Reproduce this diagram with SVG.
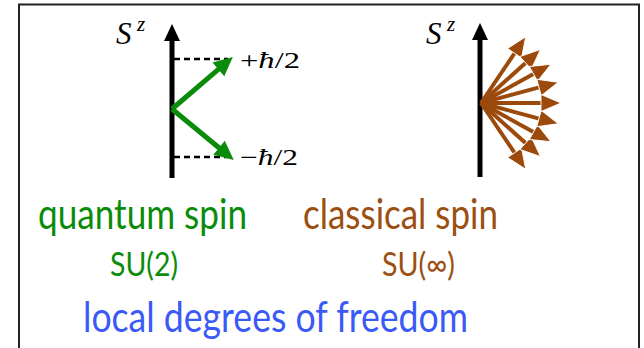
<svg xmlns="http://www.w3.org/2000/svg" width="644" height="348" viewBox="0 0 644 348">
<style>
.lbl{font-family:Lato,"Open Sans",sans-serif;font-weight:400;text-anchor:middle}
.q{fill:#0a8c0a}
.c{fill:#9c4f12}
.b{fill:#3a5af8}
.m{font-family:"Liberation Serif","DejaVu Serif",serif;fill:#000}
.it{font-style:italic}
.dash{stroke:#000;stroke-width:2.5;stroke-dasharray:6 4;fill:none}
.axis{stroke:#000;stroke-width:5}
</style>
<defs>
<g id="barrow">
<line x1="0" y1="0" x2="64" y2="0" stroke="#9c4a0c" stroke-width="4"/>
<path d="M60,-8.5 L80,0 L60,8.5 Z" fill="#9c4a0c" stroke="#fff" stroke-width="0.9"/>
</g>
<g id="garrow">
<line x1="0" y1="0" x2="64" y2="0" stroke="#0a8c0a" stroke-width="5"/>
<path d="M61,-9 L80,0 L61,9 Z" fill="#0a8c0a"/>
</g>
</defs>
<rect id="frame" x="19" y="4.5" width="620" height="360" fill="#fff" stroke="#222" stroke-width="2"/>

<g id="quantum">
<line class="axis" x1="172" y1="178" x2="172" y2="38"/>
<path d="M164,41 L172,24 L180,41 Z" fill="#000"/>
<line class="dash" x1="174" y1="59" x2="228" y2="59"/>
<line class="dash" x1="174" y1="157" x2="228" y2="157"/>
<use href="#garrow" transform="translate(172,109) rotate(-40.5)"/>
<use href="#garrow" transform="translate(172,109) rotate(39.5)"/>
<text class="m it" x="116" y="44" font-size="31">S</text>
<text class="m it" x="137" y="31" font-size="21">z</text>
<text class="m" x="240" y="68" font-size="23" textLength="60" lengthAdjust="spacingAndGlyphs">+<tspan class="it">ħ</tspan>/2</text>
<text class="m" x="240" y="165" font-size="23" textLength="58" lengthAdjust="spacingAndGlyphs">−<tspan class="it">ħ</tspan>/2</text>
</g>

<g id="classical">
<line class="axis" x1="480" y1="177" x2="480" y2="37"/>
<path d="M472,40 L480,23 L488,40 Z" fill="#000"/>
<use href="#barrow" transform="translate(481,103) rotate(-56)"/>
<use href="#barrow" transform="translate(481,103) rotate(56)"/>
<use href="#barrow" transform="translate(481,103) rotate(-42)"/>
<use href="#barrow" transform="translate(481,103) rotate(42)"/>
<use href="#barrow" transform="translate(481,103) rotate(-29)"/>
<use href="#barrow" transform="translate(481,103) rotate(29)"/>
<use href="#barrow" transform="translate(481,103) rotate(-15)"/>
<use href="#barrow" transform="translate(481,103) rotate(15)"/>
<use href="#barrow" transform="translate(481,103) rotate(0)"/>
<text class="m it" x="426" y="44" font-size="31">S</text>
<text class="m it" x="447" y="31" font-size="21">z</text>
</g>

<g id="labels">
<text class="lbl q" x="142.5" y="229" font-size="42" textLength="209" lengthAdjust="spacingAndGlyphs">quantum spin</text>
<text class="lbl q" x="144" y="276" font-size="33" textLength="68" lengthAdjust="spacingAndGlyphs">SU(2)</text>
<text class="lbl c" x="400.5" y="229" font-size="42" textLength="195" lengthAdjust="spacingAndGlyphs">classical spin</text>
<text class="lbl c" x="418.5" y="276" font-size="33" textLength="73" lengthAdjust="spacingAndGlyphs">SU(∞)</text>
<text class="lbl b" x="275.5" y="332" font-size="42" textLength="385" lengthAdjust="spacingAndGlyphs">local degrees of freedom</text>
</g>
</svg>
